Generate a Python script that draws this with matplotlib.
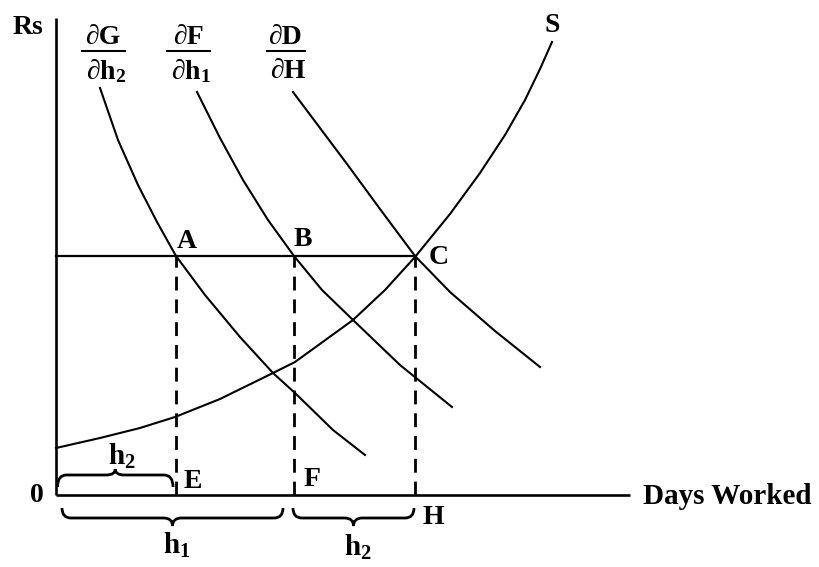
import matplotlib
matplotlib.use("Agg")
import matplotlib.pyplot as plt
from matplotlib.path import Path
from matplotlib.patches import PathPatch

# ---- data (x = days worked, y = Rs) ----
S_x = [0, 4.4, 8.4, 11.9, 16.4, 21.7, 23.9, 29.7, 32.9, 35.9, 39.4, 42.4, 44.9, 46.9, 48.4, 49.6]
S_y = [4.7, 5.7, 6.7, 7.8, 9.6, 12.2, 13.3, 17.5, 20.5, 23.8, 28.1, 32.2, 36.0, 39.5, 42.6, 45.3]

G_x = [4.4, 6.2, 8.2, 10.1, 12.0, 14.9, 18.4, 21.7, 23.9, 27.7, 30.9]
G_y = [40.7, 35.5, 31.0, 27.3, 23.9, 20.0, 15.8, 12.2, 10.2, 6.5, 4.0]

F_x = [14.1, 16.4, 18.7, 21.2, 23.8, 26.6, 29.7, 34.4, 39.6]
F_y = [40.3, 35.7, 31.5, 27.5, 23.9, 20.5, 17.5, 13.0, 8.8]

D_x = [23.7, 26.4, 29.1, 32.4, 35.9, 39.4, 43.9, 48.4]
D_y = [40.3, 36.7, 33.1, 28.6, 23.9, 20.3, 16.4, 12.8]

wage = 23.9
E_day, F_day, H_day = 12.0, 23.8, 35.9
point_days = [E_day, F_day, H_day]

plt.rcParams["mathtext.fontset"] = "custom"
plt.rcParams["mathtext.rm"] = "Liberation Serif:bold"
plt.rcParams["mathtext.it"] = "Liberation Serif:bold"
plt.rcParams["mathtext.bf"] = "Liberation Serif:bold"
FAM = ["Liberation Serif", "DejaVu Serif"]

fig = plt.figure(figsize=(8.2, 5.67), dpi=100)
ax = fig.add_axes([0, 0, 1, 1])
ax.set_xlim(-5.6, 76.4)
ax.set_ylim(-7.2, 49.5)
ax.axis("off")

k = "black"
# axes
ax.plot([0, 0], [0, 47.7], color=k, lw=1.9, solid_capstyle="butt")
ax.plot([0, 57.4], [0, 0], color=k, lw=1.9, solid_capstyle="butt")

# curves
for xs, ys in [(S_x, S_y), (G_x, G_y), (F_x, F_y), (D_x, D_y)]:
    ax.plot(xs, ys, color=k, lw=1.5, solid_joinstyle="round")

# wage line
ax.plot([0, H_day], [wage, wage], color=k, lw=1.6)

# dashed verticals
for d in point_days:
    ax.plot([d, d], [0, wage], color=k, lw=2.0, linestyle=(0, (5, 3.2)))

TXT = dict(family=FAM, fontweight="bold", color=k)

# point labels
ax.text(13.1, 25.3, "A", fontsize=20, ha="center", va="center", **TXT)
ax.text(24.7, 25.5, "B", fontsize=20, ha="center", va="center", **TXT)
ax.text(38.3, 23.8, "C", fontsize=20, ha="center", va="center", **TXT)
ax.text(13.7, 1.4, "E", fontsize=20, ha="center", va="center", **TXT)
ax.text(25.6, 1.5, "F", fontsize=20, ha="center", va="center", **TXT)
ax.text(37.7, -2.3, "H", fontsize=20, ha="center", va="center", **TXT)
ax.text(-1.9, 0.0, "0", fontsize=20, ha="center", va="center", **TXT)
ax.text(-2.8, 46.8, "Rs", fontsize=20, ha="center", va="center", **TXT)
ax.text(49.6, 47.0, "S", fontsize=20, ha="center", va="center", **TXT)
ax.text(58.7, -0.2, "Days Worked", fontsize=21, ha="left", va="center", **TXT)

# brace labels
ax.text(6.6, 3.9, "h$_2$", fontsize=21, ha="center", va="center", **TXT)
ax.text(12.1, -5.0, "h$_1$", fontsize=21, ha="center", va="center", **TXT)
ax.text(30.2, -5.2, "h$_2$", fontsize=21, ha="center", va="center", **TXT)

# fraction labels
fracs = [("∂G", "∂h$_2$", 4.7, 2.6, 6.9), ("∂F", "∂h$_1$", 13.2, 11.1, 15.4), ("∂D", "∂H", 22.9, 21.1, 24.9)]
for num, den, xc, b0, b1 in fracs:
    ax.text(xc, 45.8, num, fontsize=20, ha="center", va="center", **TXT)
    ax.plot([b0, b1], [44.4, 44.4], color=k, lw=1.5)
    ax.text(xc + 0.3, 42.4, den, fontsize=20, ha="center", va="center", **TXT)


def brace(x0, x1, y_end, y_line, y_tip, r=0.9):
    xm = (x0 + x1) / 2
    verts = [(x0, y_end), (x0, y_line), (x0 + r, y_line),
             (xm - r, y_line), (xm, y_line), (xm, y_tip),
             (xm, y_line), (xm + r, y_line),
             (x1 - r, y_line), (x1, y_line), (x1, y_end)]
    codes = [Path.MOVETO, Path.CURVE3, Path.CURVE3,
             Path.LINETO, Path.CURVE3, Path.CURVE3,
             Path.CURVE3, Path.CURVE3,
             Path.LINETO, Path.CURVE3, Path.CURVE3]
    ax.add_patch(PathPatch(Path(verts, codes), fill=False, lw=2.0, edgecolor=k))


brace(0.15, 11.7, 0.8, 2.0, 2.6)
brace(0.6, 22.7, -1.3, -2.3, -3.1)
brace(23.7, 35.8, -1.3, -2.3, -3.1)

fig.savefig("out.png", dpi=100)
